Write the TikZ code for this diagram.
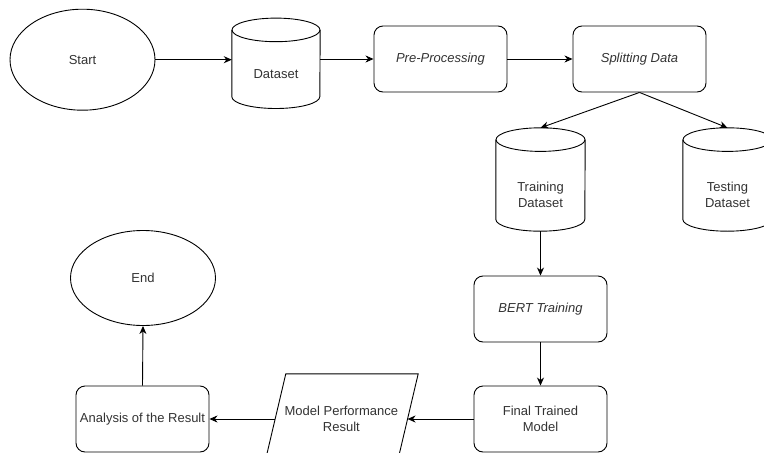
\documentclass[tikz,border=0pt]{standalone}
\usepackage{fontspec}
\setmainfont{Liberation Sans}
\usetikzlibrary{shapes.geometric,arrows.meta}
\definecolor{txtgray}{HTML}{333333}
\newcommand\cylshape[2]{%
  \draw[cylline] ([yshift=-11.8pt]#1.north west) -- ([yshift=11.8pt]#1.south west)
    arc[start angle=180,end angle=360,x radius=#2,y radius=11.8pt] -- ([yshift=-11.8pt]#1.north east);
  \draw[cylline] ([yshift=-11.8pt]#1.north) ellipse[x radius=#2, y radius=11.8pt];
}
\tikzset{
  every node/.style={font=\fontsize{13}{16}\selectfont, text=txtgray, align=center, inner sep=0pt},
  oval/.style={ellipse, draw, line width=0.9pt},
  procbox/.style={draw, rounded corners=9pt, line width=0.9pt, minimum width=133pt, minimum height=66pt},
  cylbox/.style={minimum width=89pt, minimum height=103pt},
  cylline/.style={line width=0.9pt},
  flow/.style={-{Stealth[length=8pt,width=7pt,inset=2.5pt]}, line width=0.9pt},
}
\begin{document}
\begin{tikzpicture}[x=1pt,y=-1pt]
\useasboundingbox (0,0) rectangle (764,453);
\fill[white] (0,0) rectangle (764,453);
\clip (0,0) rectangle (764,453);

\node[oval, minimum width=145pt, minimum height=101pt] (start) at (82.5,59.7) {Start};
\node[minimum width=88pt, minimum height=90pt, label={[yshift=-10.5pt]center:Dataset}] (dataset) at (276,63.3) {};
\cylshape{dataset}{44pt}
\node[procbox] (pre) at (440.5,59) {\itshape Pre-Processing};
\node[procbox] (split) at (639.5,59) {\itshape Splitting Data};
\node[cylbox, label={[yshift=-15.5pt]center:Training\\Dataset}] (train) at (540.5,179.5) {};
\cylshape{train}{44.5pt}
\node[cylbox, label={[yshift=-15.5pt]center:Testing\\Dataset}] (test) at (727.5,179.5) {};
\cylshape{test}{44.5pt}
\node[procbox] (bert) at (540.5,309) {\itshape BERT Training};
\node[procbox] (final) at (540.5,419) {Final Trained\\Model};
\node[minimum width=132pt, minimum height=90pt] (perf) at (341.35,419) {Model Performance\\Result};
\draw[line width=0.9pt] ([xshift=10.65pt]perf.north west) -- ([xshift=10.65pt]perf.north east)
  -- ([xshift=-10.65pt]perf.south east) -- ([xshift=-10.65pt]perf.south west) -- cycle;
\node[procbox] (analysis) at (142.5,419) {Analysis of the Result};
\node[oval, minimum width=145pt, minimum height=95pt] (end) at (143,278) {End};

\draw[flow] (start.east) -- (start.east -| dataset.west);
\draw[flow] (pre.west -| dataset.east) -- (pre.west);
\draw[flow] (pre.east) -- (split.west);
\draw[flow] (split.south) -- (train.north);
\draw[flow] (split.south) -- (test.north);
\draw[flow] (train.south) -- (bert.north);
\draw[flow] (bert.south) -- (final.north);
\draw[flow] (final.west) -- (perf.east);
\draw[flow] (perf.west) -- (analysis.east);
\draw[flow] (analysis.north) -- (end.south);
\end{tikzpicture}
\end{document}
